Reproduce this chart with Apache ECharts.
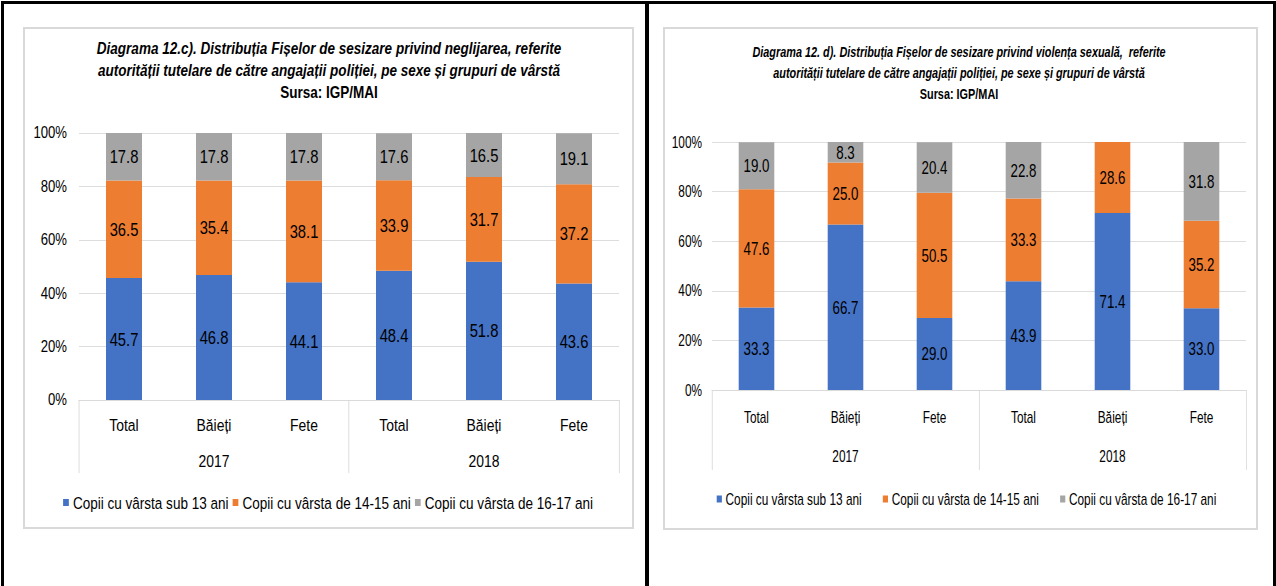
<!DOCTYPE html>
<html>
<head>
<meta charset="utf-8">
<script src="https://cdn.jsdelivr.net/npm/echarts@6/dist/echarts.min.js"></script>
<style>
  html, body { margin: 0; padding: 0; background: #fff; width: 1276px; height: 586px; overflow: hidden; }
  .page { position: relative; width: 1276px; height: 586px; overflow: hidden; }
  .line { position: absolute; background: #000; }
  .frame { position: absolute; border: 2px solid #D9D9D9; box-sizing: border-box; }
  /* the original charts use a narrow font, so each chart is drawn wider and squeezed */
  .chart { position: absolute; top: 0; height: 586px; transform-origin: 0 0; }
</style>
</head>
<body>
<div class="page">
  <div class="line" style="left:1px;top:1px;width:1275px;height:3px"></div>
  <div class="line" style="left:1px;top:1px;width:3px;height:585px"></div>
  <div class="line" style="left:645px;top:1px;width:4px;height:585px"></div>
  <div class="line" style="left:1273px;top:1px;width:3px;height:585px"></div>
  <div class="frame" style="left:23px;top:27px;width:611px;height:502px"></div>
  <div class="frame" style="left:663px;top:27px;width:595px;height:503px"></div>
  <div id="chartC" class="chart"></div>
  <div id="chartD" class="chart"></div>
</div>
<script>
// categories and groups
const categories = ['Total', 'Băieți', 'Fete', 'Total', 'Băieți', 'Fete']
const years = ['2017', '2018']
const seriesNames = ['Copii cu vârsta sub 13 ani', 'Copii cu vârsta de 14-15 ani', 'Copii cu vârsta de 16-17 ani']
const seriesColors = ['#4472C4', '#ED7D31', '#A5A5A5']

// 12.c) neglijarea
const neglectSub13 = [45.7, 46.8, 44.1, 48.4, 51.8, 43.6]
const neglect1415 = [36.5, 35.4, 38.1, 33.9, 31.7, 37.2]
const neglect1617 = [17.8, 17.8, 17.8, 17.6, 16.5, 19.1]

// 12.d) violenta sexuala
const sexualSub13 = [33.3, 66.7, 29.0, 43.9, 71.4, 33.0]
const sexual1415 = [47.6, 25.0, 50.5, 33.3, 28.6, 35.2]
const sexual1617 = [19.0, 8.3, 20.4, 22.8, 0, 31.8]

const titleC = [
  'Diagrama 12.c). Distribuția Fișelor de sesizare privind neglijarea, referite',
  'autorității tutelare de către angajații poliției, pe sexe și grupuri de vârstă',
  'Sursa: IGP/MAI',
]
const titleD = [
  'Diagrama 12. d). Distribuția Fișelor de sesizare privind violența sexuală,  referite',
  'autorității tutelare de către angajații poliției, pe sexe și grupuri de vârstă',
  'Sursa: IGP/MAI',
]

const FONT = '"Liberation Sans", Arial, sans-serif'
const GRID_LINE = '#D9D9D9'

// builds one chart; cfg holds page positions, converted to the squeezed chart space
function buildChart(el, cfg, title, a, b, c) {
  const k = cfg.k
  const px = (x) => (x - cfg.pageLeft) / k
  el.style.left = cfg.pageLeft + 'px'
  el.style.width = cfg.pageWidth / k + 'px'
  el.style.transform = `scaleX(${k})`

  const chart = echarts.init(el, null, { renderer: 'svg' })
  const label = (size) => ({ fontFamily: FONT, fontSize: size, color: '#000' })

  const series = [a, b, c].map((values, i) => ({
    name: seriesNames[i],
    type: 'bar',
    stack: 'total',
    data: values,
    barWidth: '40%',
    itemStyle: { color: seriesColors[i] },
    label: {
      show: true,
      position: 'inside',
      ...label(cfg.valueSize),
      formatter: (p) => (p.value > 0 ? p.value.toFixed(1) : ''),
    },
  }))

  chart.setOption({
    animation: false,
    title: {
      text: `{i|${title[0]}}\n{i|${title[1]}}\n{b|${title[2]}}`,
      left: px(cfg.titleX),
      top: cfg.titleTop,
      textAlign: 'center',
      padding: 0,
      textStyle: {
        align: 'center',
        rich: {
          i: { fontFamily: FONT, fontSize: cfg.titleSize, fontWeight: 'bold', fontStyle: 'italic', color: '#000', lineHeight: cfg.titleLine },
          b: { fontFamily: FONT, fontSize: cfg.titleSize, fontWeight: 'bold', color: '#000', lineHeight: cfg.titleLine },
        },
      },
    },
    legend: {
      left: px(cfg.legendX),
      top: cfg.legendTop,
      itemWidth: 7,
      itemHeight: 7,
      itemGap: cfg.legendGap / k,
      icon: 'rect',
      data: seriesNames,
      textStyle: label(cfg.legendSize),
    },
    grid: {
      left: px(cfg.gridLeft),
      width: (cfg.gridRight - cfg.gridLeft) / k,
      top: cfg.gridTop,
      height: cfg.gridBottom - cfg.gridTop,
    },
    xAxis: [
      {
        type: 'category',
        data: categories,
        axisLine: { lineStyle: { color: GRID_LINE, width: 1 } },
        axisTick: { show: false },
        axisLabel: { ...label(cfg.axisSize), margin: cfg.catMargin },
      },
      {
        type: 'category',
        position: 'bottom',
        data: years,
        axisLine: { show: false },
        axisTick: { show: true, length: cfg.tickLen, lineStyle: { color: GRID_LINE, width: 1 } },
        axisLabel: { ...label(cfg.axisSize), margin: cfg.yearMargin },
      },
    ],
    yAxis: {
      type: 'value',
      min: 0,
      max: 100,
      interval: 20,
      axisLine: { show: false },
      axisTick: { show: false },
      axisLabel: { formatter: '{value}%', ...label(cfg.yLabelSize), margin: cfg.yMargin / k },
      splitLine: { lineStyle: { color: GRID_LINE, width: 1 } },
    },
    series: series,
  })
  return chart
}

const chartC = buildChart(document.getElementById('chartC'), {
  k: 0.82, pageLeft: 4, pageWidth: 641,
  titleX: 329, titleTop: 37, titleSize: 16.5, titleLine: 22,
  legendX: 59, legendTop: 489, legendGap: 4, legendSize: 16.5,
  gridLeft: 79, gridRight: 619, gridTop: 133, gridBottom: 400,
  axisSize: 17, yLabelSize: 16, valueSize: 18,
  catMargin: 16, yearMargin: 52, tickLen: 73, yMargin: 12,
}, titleC, neglectSub13, neglect1415, neglect1617)

const chartD = buildChart(document.getElementById('chartD'), {
  k: 0.74, pageLeft: 649, pageWidth: 624,
  titleX: 959, titleTop: 41, titleSize: 14.7, titleLine: 21,
  legendX: 713, legendTop: 486, legendGap: 21, legendSize: 16,
  gridLeft: 712, gridRight: 1246, gridTop: 142, gridBottom: 390,
  axisSize: 16, yLabelSize: 16, valueSize: 18,
  catMargin: 19, yearMargin: 58, tickLen: 80, yMargin: 10,
}, titleD, sexualSub13, sexual1415, sexual1617)

window.addEventListener('resize', () => { chartC.resize(); chartD.resize() })
</script>
</body>
</html>
